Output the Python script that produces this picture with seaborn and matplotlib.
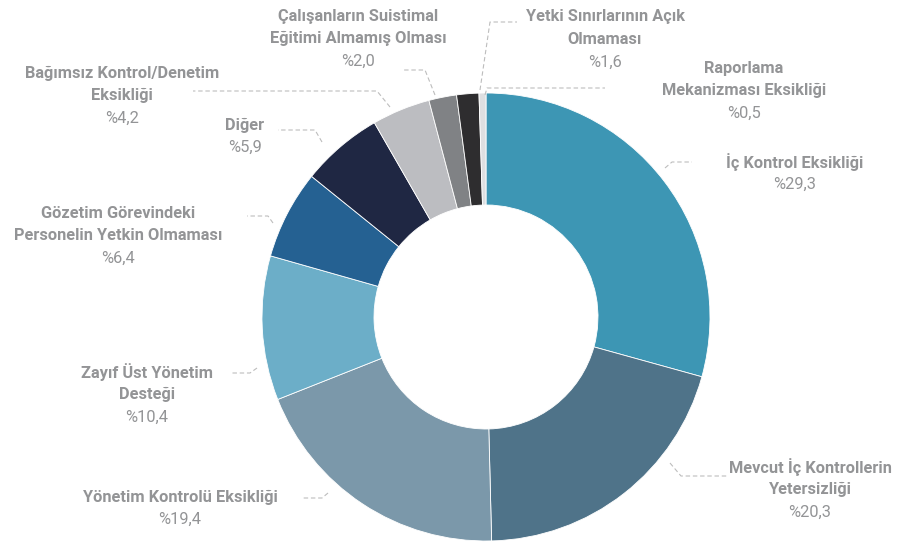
import matplotlib
matplotlib.use("Agg")
import matplotlib.pyplot as plt
import seaborn as sns

# data (clockwise from 12 o'clock)
categories = [
    "İç Kontrol Eksikliği",
    "Mevcut İç Kontrollerin\nYetersizliği",
    "Yönetim Kontrolü Eksikliği",
    "Zayıf Üst Yönetim\nDesteği",
    "Gözetim Görevindeki\nPersonelin Yetkin Olmaması",
    "Diğer",
    "Bağımsız Kontrol/Denetim\nEksikliği",
    "Çalışanların Suistimal\nEğitimi Almamış Olması",
    "Yetki Sınırlarının Açık\nOlmaması",
    "Raporlama\nMekanizması Eksikliği",
]
shares = [29.3, 20.3, 19.4, 10.4, 6.4, 5.9, 4.2, 2.0, 1.6, 0.5]
colors = ["#3d96b4", "#4f7389", "#7b98aa", "#6caec8", "#256192",
          "#1f2743", "#bcbdc1", "#808285", "#2e2d2f", "#dedfe1"]

# label layout in pixel space (x centre, first line y) and leader polylines
label_pos = [(795, 162), (810, 467), (180, 497), (147, 372), (118, 213),
             (245, 125), (122, 73), (358, 16), (605, 17), (744, 68)]
leaders = [
    [(665, 168), (672, 162), (692, 162)],
    [(670, 463), (681, 476), (727, 476)],
    [(328, 493), (322, 498), (303, 498)],
    [(257, 368), (250, 373), (232, 373)],
    [(273, 223), (268, 216), (247, 216)],
    [(322, 142), (315, 130), (278, 130)],
    [(390, 107), (377, 91), (193, 91)],
    [(435, 95), (425, 70), (403, 70)],
    [(480, 90), (490, 22), (517, 22)],
    [(485, 95), (487, 88), (605, 88)],
]

sns.set_theme(style="white")
plt.rcParams["font.family"] = ["Roboto", "DejaVu Sans"]

fig = plt.figure(figsize=(9, 5.43), dpi=100)
ax = fig.add_axes([0, 0, 1, 1])

# y axis is inverted (pixel space), so start at -90 and go "counterclockwise"
ax.pie(shares, colors=colors, startangle=-90, counterclock=True,
       radius=224, center=(486, 317),
       wedgeprops=dict(width=112, edgecolor="white", linewidth=0.6))

text_color = "#939496"
for name, v, (x, y), pts in zip(categories, shares, label_pos, leaders):
    lines = name.split("\n")
    for i, line in enumerate(lines):
        ax.text(x, y + i * 22.5, line, ha="center", va="center",
                fontsize=11.8, fontweight="bold", color=text_color)
    pct = "%" + f"{v:.1f}".replace(".", ",")
    ax.text(x, y + len(lines) * 22.5, pct, ha="center", va="center",
            fontsize=11.8, color=text_color)
    xs, ys = zip(*pts)
    ax.plot(xs, ys, color="#bdbdbd", lw=0.8, ls=(0, (4, 2.5)))

ax.set_xlim(0, 900)
ax.set_ylim(543, 0)
ax.set_aspect("equal")
ax.axis("off")

fig.savefig("out.png", dpi=100, facecolor="white")
